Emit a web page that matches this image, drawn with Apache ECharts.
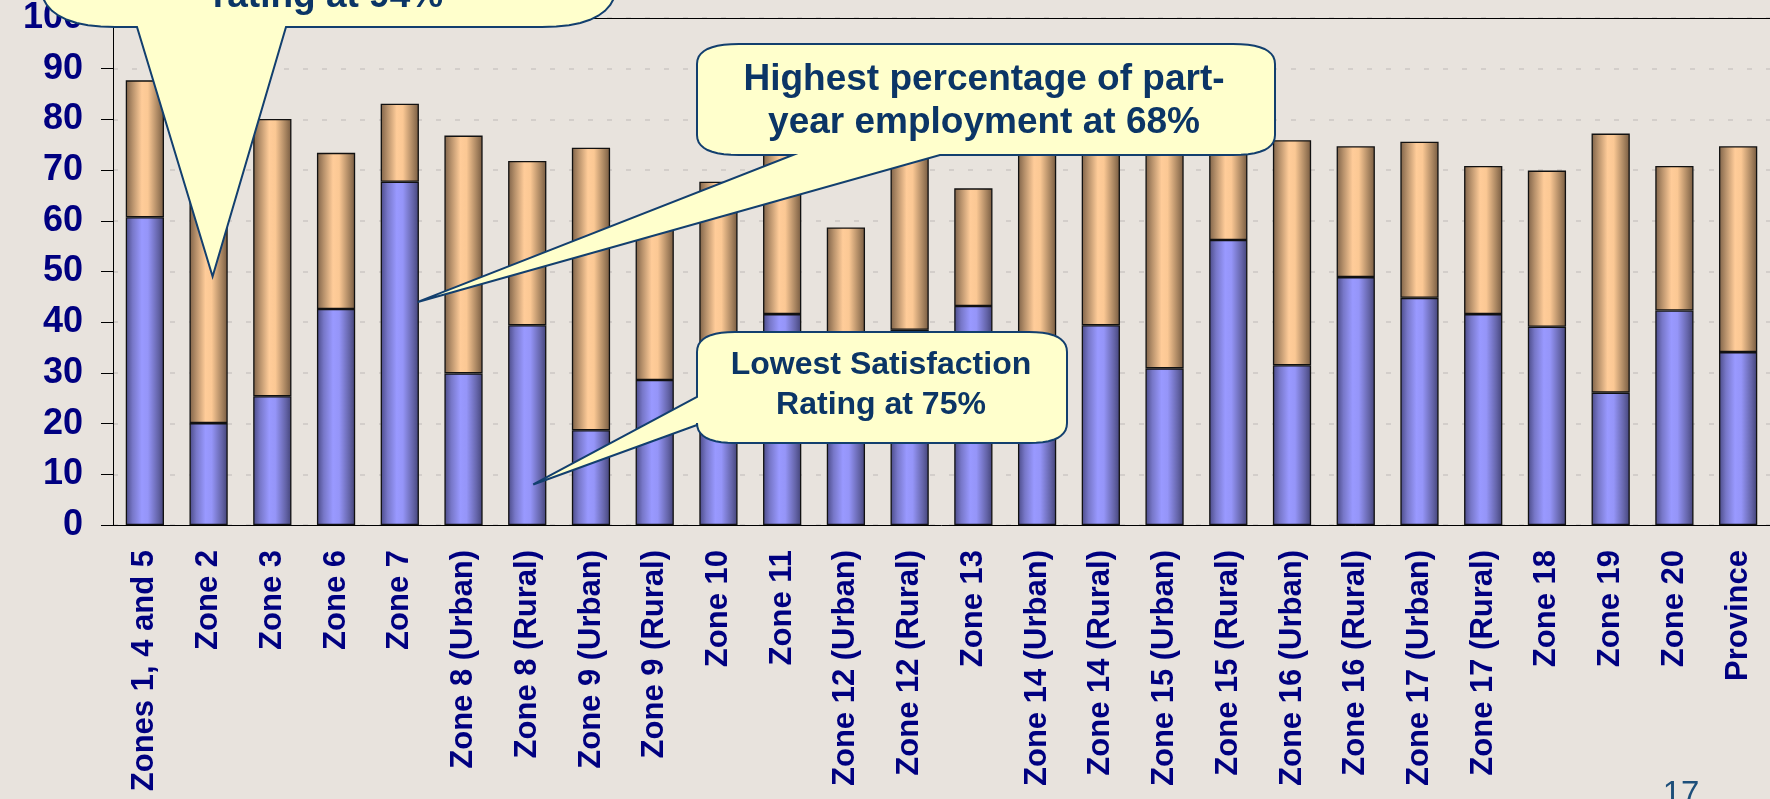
<!DOCTYPE html>
<html>
<head>
<meta charset="utf-8">
<script src="https://cdn.jsdelivr.net/npm/echarts@6/dist/echarts.min.js"></script>
<style>
  html, body { margin: 0; padding: 0; background: #e8e3dd; }
  #main { width: 1770px; height: 799px; }
</style>
</head>
<body>
<div id="main"></div>
<script>
// categories
var zones = ["Zones 1, 4 and 5", "Zone 2", "Zone 3", "Zone 6", "Zone 7",
  "Zone 8 (Urban)", "Zone 8 (Rural)", "Zone 9 (Urban)", "Zone 9 (Rural)", "Zone 10",
  "Zone 11", "Zone 12 (Urban)", "Zone 12 (Rural)", "Zone 13", "Zone 14 (Urban)",
  "Zone 14 (Rural)", "Zone 15 (Urban)", "Zone 15 (Rural)", "Zone 16 (Urban)", "Zone 16 (Rural)",
  "Zone 17 (Urban)", "Zone 17 (Rural)", "Zone 18", "Zone 19", "Zone 20", "Province"];

// blue (bottom) segment and peach (top) segment
var lowerPart = [60.7, 20.1, 25.4, 42.6, 67.7, 29.9, 39.4, 18.7, 28.6, 27.0,
  41.6, 24.0, 38.5, 43.2, 20.0, 39.4, 30.9, 56.2, 31.5, 48.9,
  44.8, 41.6, 39.1, 26.1, 42.3, 34.1];
var upperPart = [27.0, 60.9, 54.7, 30.8, 15.4, 46.9, 32.4, 55.7, 30.4, 40.7,
  34.4, 34.7, 38.5, 23.2, 58.0, 36.6, 48.1, 20.8, 44.4, 25.8,
  30.8, 29.2, 30.8, 51.1, 28.5, 40.6];

// value axis
var yMin = 0, yMax = 100, yStep = 10;

// callout texts and what they point at
var noteTop = ["rating at 94%"];
var noteEmployment = ["Highest percentage of part-", "year employment at 68%"];
var noteLowest = ["Lowest Satisfaction", "Rating at 75%"];
var pointTop = ["Zone 2", 49];
var pointEmployment = ["Zone 7", 44];
var pointLowest = ["Zone 8 (Rural)", 8];
var slideNumber = "17";

var FONT = "'Liberation Sans', Arial, sans-serif";
var NAVY = "#000080";
var NOTE_TEXT = "#0b3566";
var NOTE_FILL = "#ffffcc";
var NOTE_LINE = "#123f6e";

var blueFill = new echarts.graphic.LinearGradient(0, 0, 1, 0, [
  { offset: 0, color: "#4a4a86" },
  { offset: 0.18, color: "#7777c8" },
  { offset: 0.42, color: "#9999ff" },
  { offset: 0.58, color: "#9595f8" },
  { offset: 0.85, color: "#6464a8" },
  { offset: 1, color: "#434378" }
]);
var peachFill = new echarts.graphic.LinearGradient(0, 0, 1, 0, [
  { offset: 0, color: "#7e6248" },
  { offset: 0.18, color: "#b8926c" },
  { offset: 0.42, color: "#ffcc99" },
  { offset: 0.58, color: "#fbc894" },
  { offset: 0.85, color: "#a6835f" },
  { offset: 1, color: "#765a40" }
]);

var myChart = echarts.init(document.getElementById("main"));

myChart.setOption({
  backgroundColor: "#e8e3dd",
  animation: false,
  grid: {
    left: 113,
    right: 0,
    top: 9,
    bottom: 274
  },
  xAxis: [
    {
      type: "category",
      data: zones,
      axisLine: { lineStyle: { color: "#000", width: 1 } },
      axisTick: { length: 10, lineStyle: { color: "#555" } },
      axisLabel: {
        interval: 0,
        rotate: 90,
        margin: 25,
        color: NAVY,
        fontFamily: FONT,
        fontWeight: "bold",
        fontSize: 31
      }
    },
    {
      // top border of the plot area
      type: "category",
      data: zones,
      position: "top",
      axisLine: { lineStyle: { color: "#000", width: 1.2 } },
      axisTick: { show: false },
      axisLabel: { show: false }
    }
  ],
  yAxis: {
    type: "value",
    min: yMin,
    max: yMax,
    interval: yStep,
    axisLine: { show: true, lineStyle: { color: "#000", width: 1 } },
    axisTick: { show: true, length: 12, lineStyle: { color: "#000" } },
    axisLabel: {
      margin: 30,
      color: NAVY,
      fontFamily: FONT,
      fontWeight: "bold",
      fontSize: 36
    },
    splitLine: {
      lineStyle: { color: "#cbc8c4", width: 1.5, type: [5, 14] }
    }
  },
  series: [
    {
      type: "bar",
      stack: "all",
      data: lowerPart,
      barCategoryGap: "40%",
      itemStyle: { color: blueFill, borderColor: "#111", borderWidth: 1.3 }
    },
    {
      type: "bar",
      stack: "all",
      data: upperPart,
      barCategoryGap: "40%",
      itemStyle: { color: peachFill, borderColor: "#111", borderWidth: 1.3 }
    }
  ]
});

// rounded box + wedge as one outline
function addCorner(pts, p0, c, p1) {
  for (var i = 0; i <= 10; i++) {
    var t = i / 10, u = 1 - t;
    pts.push([u * u * p0[0] + 2 * t * u * c[0] + t * t * p1[0],
              u * u * p0[1] + 2 * t * u * c[1] + t * t * p1[1]]);
  }
}
function calloutPoints(b, tail) {
  var pts = [];
  addCorner(pts, [b.x0, b.y0 + b.ry], [b.x0, b.y0], [b.x0 + b.rx, b.y0]);
  addCorner(pts, [b.x1 - b.rx, b.y0], [b.x1, b.y0], [b.x1, b.y0 + b.ry]);
  addCorner(pts, [b.x1, b.y1 - b.ry], [b.x1, b.y1], [b.x1 - b.rx, b.y1]);
  if (tail.side === "bottom") {
    pts.push([tail.to, b.y1], tail.tip, [tail.from, b.y1]);
  }
  addCorner(pts, [b.x0 + b.rx, b.y1], [b.x0, b.y1], [b.x0, b.y1 - b.ry]);
  if (tail.side === "left") {
    pts.push([b.x0, tail.to], tail.tip, [b.x0, tail.from]);
  }
  return pts;
}
function tipAt(p, dx) {
  var xy = myChart.convertToPixel({ gridIndex: 0 }, p);
  return [xy[0] + dx, xy[1]];
}

var tipTop = tipAt(pointTop, 4);
var tipEmp = tipAt(pointEmployment, 18);
var tipLow = tipAt(pointLowest, 6);

var shapeStyle = { fill: NOTE_FILL, stroke: NOTE_LINE, lineWidth: 2 };

myChart.setOption({
  graphic: [
    {
      type: "polygon", z: 100,
      shape: { points: calloutPoints({ x0: 40, y0: -70, x1: 617, y1: 27, rx: 75, ry: 45 },
        { side: "bottom", from: 137, to: 286, tip: tipTop }) },
      style: shapeStyle
    },
    {
      type: "text", z: 101, x: 328, y: -3,
      style: {
        text: noteTop.join("\n"), fill: NOTE_TEXT, font: "bold 37px " + FONT,
        align: "center", verticalAlign: "middle"
      }
    },
    {
      type: "polygon", z: 100,
      shape: { points: calloutPoints({ x0: 697, y0: 44, x1: 1275, y1: 155, rx: 42, ry: 20 },
        { side: "bottom", from: 793, to: 940, tip: tipEmp }) },
      style: shapeStyle
    },
    {
      type: "text", z: 101, x: 984, y: 101.5,
      style: {
        text: noteEmployment.join("\n"), fill: NOTE_TEXT, font: "bold 37px " + FONT,
        lineHeight: 43, align: "center", verticalAlign: "middle"
      }
    },
    {
      type: "polygon", z: 100,
      shape: { points: calloutPoints({ x0: 697, y0: 332, x1: 1067, y1: 443, rx: 38, ry: 20 },
        { side: "left", from: 397, to: 425, tip: tipLow }) },
      style: shapeStyle
    },
    {
      type: "text", z: 101, x: 881, y: 385,
      style: {
        text: noteLowest.join("\n"), fill: NOTE_TEXT, font: "bold 32px " + FONT,
        lineHeight: 40, align: "center", verticalAlign: "middle"
      }
    },
    {
      type: "text", z: 101, x: 1681, y: 778,
      style: {
        text: slideNumber, fill: "#1d4f7a", font: "33px " + FONT,
        align: "center", verticalAlign: "top"
      }
    }
  ]
});
</script>
</body>
</html>
